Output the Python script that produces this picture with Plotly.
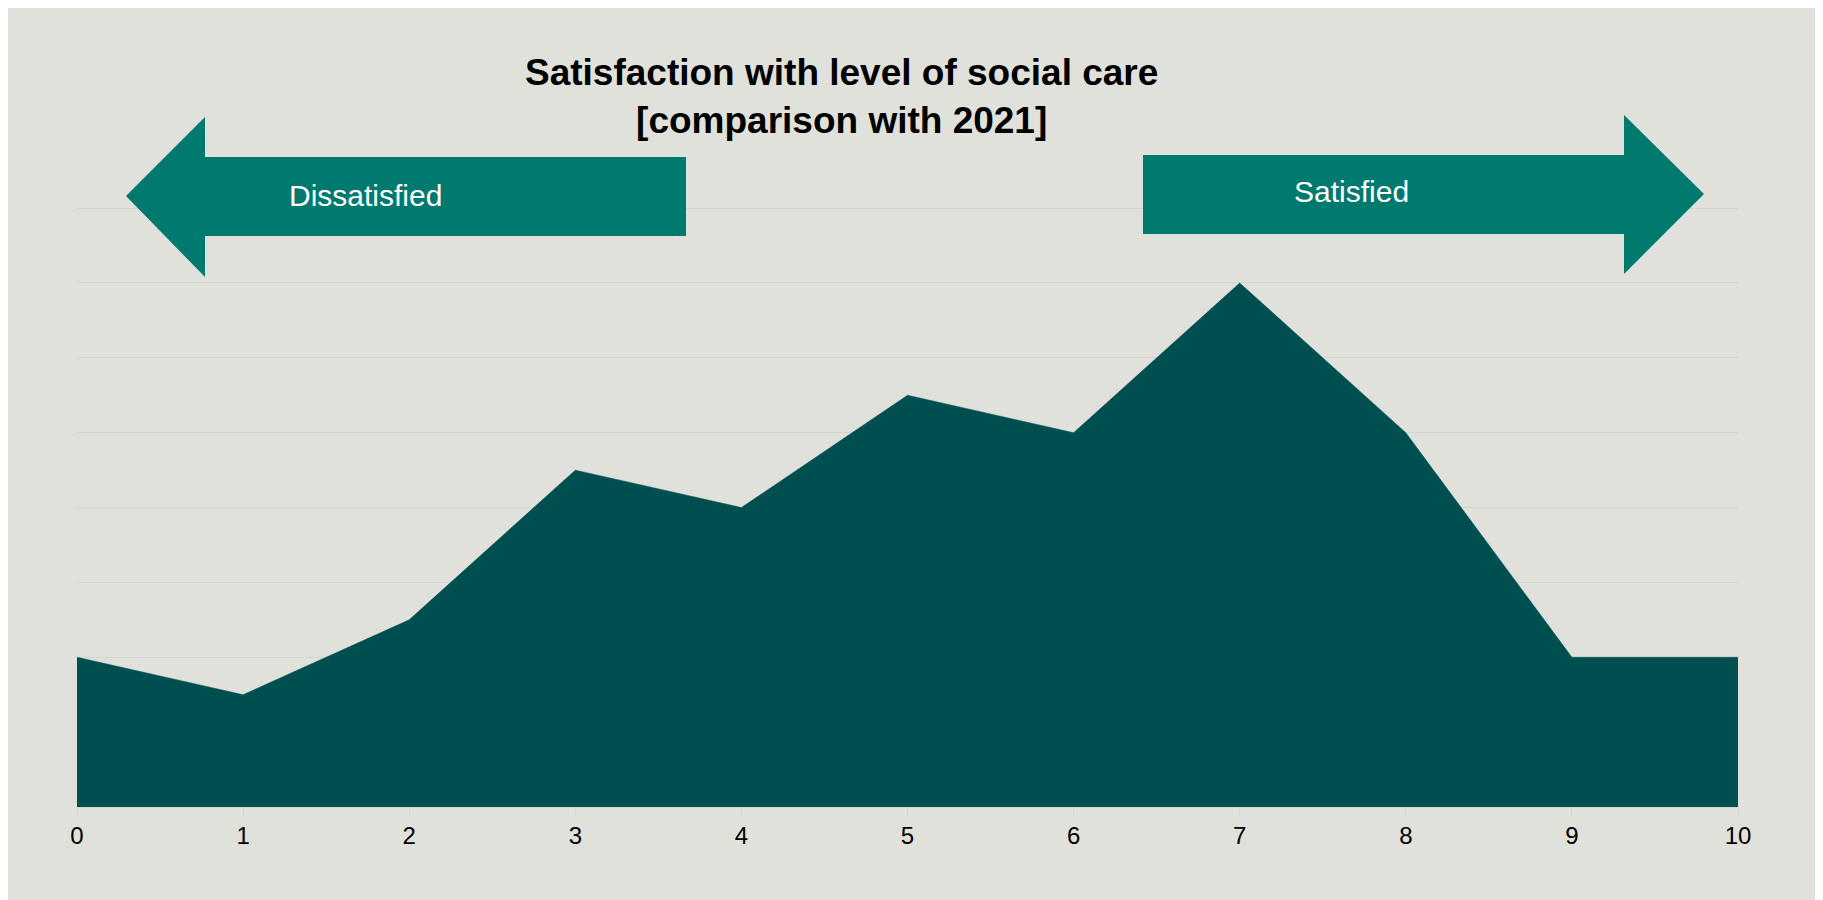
import plotly.graph_objects as go

# satisfaction score (0-10) and share of respondents
scores = [0, 1, 2, 3, 4, 5, 6, 7, 8, 9, 10]
shares = [4, 3, 5, 9, 8, 11, 10, 14, 10, 4, 4]

TITLE_1 = 'Satisfaction with level of social care'
TITLE_2 = '[comparison with 2021]'
LEFT_LABEL = 'Dissatisfied'
RIGHT_LABEL = 'Satisfied'

BG = '#E0E1DA'
AREA = '#004F50'
ARROW = '#007A6E'
GRID = '#D5D6D0'
FONT = 'Liberation Sans, Arial, sans-serif'

W, H = 1823, 900
L, R, T, B = 69, 93, 199, 101
PW, PH = W - L - R, H - T - B


def px(x):
    return (x - L) / PW


def py(y):
    return (H - B - y) / PH


def path(points):
    return 'M ' + ' L '.join(f'{px(x):.5f},{py(y):.5f}' for x, y in points) + ' Z'


fig = go.Figure()
fig.add_trace(go.Scatter(x=scores, y=shares, mode='lines', fill='tozeroy',
                         fillcolor=AREA, line=dict(color=AREA, width=0.5),
                         hoverinfo='x+y', showlegend=False))

left_arrow = [(118, 188), (197, 109), (197, 149), (678, 149), (678, 228), (197, 228), (197, 269)]
right_arrow = [(1135, 147), (1616, 147), (1616, 107), (1696, 186), (1616, 266), (1616, 226), (1135, 226)]

shapes = [
    dict(type='path', xref='paper', yref='paper', path=path(left_arrow), fillcolor=ARROW, line=dict(width=0), layer='above'),
    dict(type='path', xref='paper', yref='paper', path=path(right_arrow), fillcolor=ARROW, line=dict(width=0), layer='above'),
]

annotations = [
    dict(xref='paper', yref='paper', x=px(833), y=py(89), xanchor='center', yanchor='middle',
         text=f'<b>{TITLE_1}</b><br><b>{TITLE_2}</b>', showarrow=False,
         font=dict(family=FONT, size=37, color='#000000')),
    dict(xref='paper', yref='paper', x=px(357), y=py(187), xanchor='center', yanchor='middle',
         text=LEFT_LABEL, showarrow=False, font=dict(family=FONT, size=30, color='#FFFFFF')),
    dict(xref='paper', yref='paper', x=px(1343), y=py(183), xanchor='center', yanchor='middle',
         text=RIGHT_LABEL, showarrow=False, font=dict(family=FONT, size=30, color='#FFFFFF')),
]

fig.update_layout(
    width=W, height=H,
    margin=dict(l=L, r=R, t=T, b=B),
    paper_bgcolor=BG, plot_bgcolor=BG,
    font=dict(family=FONT, size=24, color='#000000'),
    shapes=shapes, annotations=annotations,
    showlegend=False,
)
fig.update_xaxes(range=[0, 10], tickmode='array', tickvals=scores, showgrid=False,
                 zeroline=False, showline=True, linecolor=GRID, linewidth=1,
                 ticks='outside', ticklen=7, tickcolor=GRID,
                 tickfont=dict(size=24, color='#000000'))
fig.update_yaxes(range=[0, 16.03], tickvals=[2, 4, 6, 8, 10, 12, 14, 16], showgrid=True,
                 gridcolor=GRID, gridwidth=1, zeroline=False, showticklabels=False, showline=False)

fig.write_html('out.html')
